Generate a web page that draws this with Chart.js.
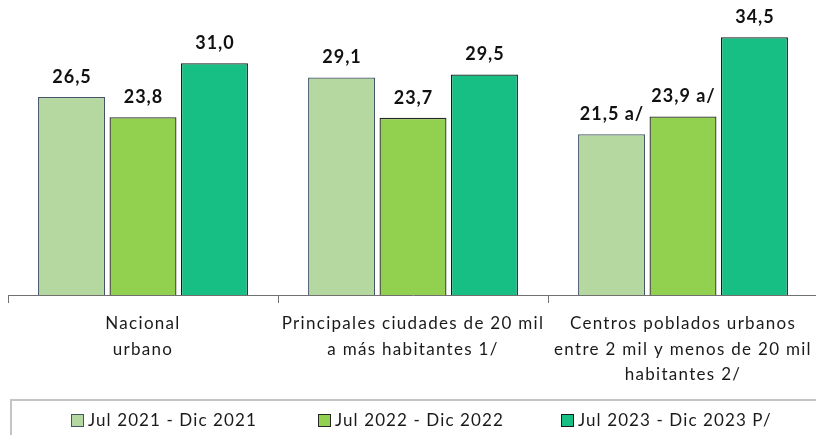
<!DOCTYPE html>
<html><head><meta charset="utf-8">
<script src="https://cdn.jsdelivr.net/npm/chart.js@4.4.1/dist/chart.umd.min.js"></script>
<style>html,body{margin:0;padding:0;background:#fff;overflow:hidden;width:816px;height:435px}
#wrap{position:absolute;left:0;top:0;width:826px;height:435px}</style>
</head><body><div id="wrap"><canvas id="c" width="826" height="435"></canvas></div>
<script>
const categories = [["Nacional","urbano"],["Principales ciudades de 20 mil","a más habitantes 1/"],["Centros poblados urbanos","entre 2 mil y menos de 20 mil","habitantes 2/"]];
const seriesNames = ["Jul 2021 - Dic 2021","Jul 2022 - Dic 2022","Jul 2023 - Dic 2023 P/"];
const s2021 = [26.5, 29.1, 21.5];
const s2022 = [23.8, 23.7, 23.9];
const s2023 = [31.0, 29.5, 34.5];
const notes2021 = ["", "", " a/"];
const notes2022 = ["", "", " a/"];
const notes2023 = ["", "", ""];

const FONT = "Lato, 'Open Sans', sans-serif";
const fills = ["#b5d8a0","#92d050","#17bf84"];
const borders = ["#44546a","#262626","#1a1a1a"];
const notes = [notes2021, notes2022, notes2023];

const spacing = {
  id:'spacing',
  beforeDraw(chart){ chart.ctx.letterSpacing = '1.3px'; }
};

const valueLabels = {
  id:'valueLabels',
  afterDatasetsDraw(chart){
    const ctx = chart.ctx;
    ctx.save();
    ctx.letterSpacing = '1px';
    ctx.font = "bold 18px " + FONT;
    ctx.fillStyle = "#111";
    ctx.textAlign = "center";
    ctx.textBaseline = "middle";
    chart.data.datasets.forEach((ds, di) => {
      chart.getDatasetMeta(di).data.forEach((bar, i) => {
        const txt = ds.data[i].toFixed(1).replace('.', ',') + notes[di][i];
        ctx.fillText(txt, bar.x + 0.5, bar.y - 20);
      });
    });
    ctx.restore();
  }
};

const legendBox = {
  id:'legendBox',
  afterDraw(chart){
    const ctx = chart.ctx;
    ctx.save();
    ctx.letterSpacing = '1.1px';
    ctx.strokeStyle = "#c4c4c4";
    ctx.lineWidth = 2;
    ctx.strokeRect(11, 400, 900, 100);
    ctx.font = "17px " + FONT;
    ctx.textBaseline = "middle";
    ctx.textAlign = "left";
    const starts = [71, 318, 561];
    chart.data.datasets.forEach((ds, di) => {
      const x = starts[di];
      ctx.fillStyle = ds.backgroundColor;
      ctx.fillRect(x + 0.5, 414.5, 12, 12);
      ctx.strokeStyle = ds.borderColor;
      ctx.lineWidth = 1;
      ctx.strokeRect(x + 0.5, 414.5, 12, 12);
      ctx.fillStyle = "#1a1a1a";
      ctx.fillText(ds.label, x + 17, 421);
    });
    ctx.restore();
  }
};

new Chart(document.getElementById('c'), {
  type: 'bar',
  data: {
    labels: categories,
    datasets: [s2021, s2022, s2023].map((d, i) => ({
      label: seriesNames[i], data: d,
      backgroundColor: fills[i], borderColor: borders[i], borderWidth: 1.3,
      categoryPercentage: 0.794, barPercentage: 0.937
    }))
  },
  options: {
    responsive: false, animation: false,
    layout: { padding: { left: 8, right: 8, top: 11, bottom: 0 } },
    plugins: { legend: { display: false }, tooltip: { enabled: false } },
    scales: {
      x: {
        grid: { offset: true, drawOnChartArea: false, tickLength: 8, color: '#707070' },
        border: { color: '#707070' },
        ticks: { color: '#1a1a1a', font: { family: FONT, size: 17, lineHeight: 1.5 }, padding: 8, maxRotation: 0, autoSkip: false },
        afterFit(s){ s.height = 140; }
      },
      y: { display: false, min: 0, max: 38 }
    }
  },
  plugins: [spacing, valueLabels, legendBox]
});
</script></body></html>
